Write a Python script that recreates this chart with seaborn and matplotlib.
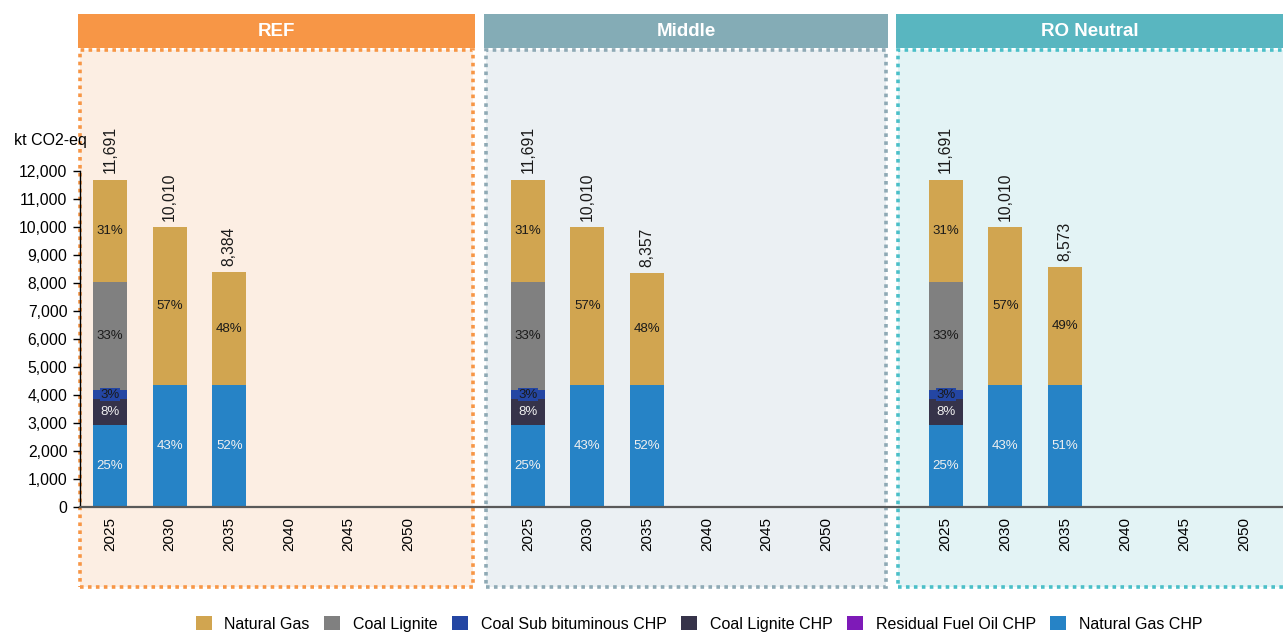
import matplotlib
matplotlib.use("Agg")
import matplotlib.pyplot as plt
from matplotlib.patches import Rectangle, Patch
import seaborn as sns
import pandas as pd
import numpy as np

# ---------------- data ----------------
scenarios = ["REF", "Middle", "RO Neutral"]
years = [2025, 2030, 2035, 2040, 2045, 2050]
data_years = [2025, 2030, 2035]

# series listed bottom -> top in the stack
series_stack = ["Natural Gas CHP", "Coal Lignite CHP", "Coal Sub bituminous CHP",
                "Residual Fuel Oil CHP", "Coal Lignite", "Natural Gas"]
legend_order = ["Natural Gas", "Coal Lignite", "Coal Sub bituminous CHP",
                "Coal Lignite CHP", "Residual Fuel Oil CHP", "Natural Gas CHP"]

natural_gas_chp = {"REF": [2925, 4340, 4340], "Middle": [2925, 4340, 4340], "RO Neutral": [2925, 4340, 4340]}
coal_lignite_chp = {"REF": [925, 0, 0], "Middle": [925, 0, 0], "RO Neutral": [925, 0, 0]}
coal_subbit_chp = {"REF": [330, 0, 0], "Middle": [330, 0, 0], "RO Neutral": [330, 0, 0]}
resid_fuel_oil_chp = {"REF": [0, 0, 0], "Middle": [0, 0, 0], "RO Neutral": [0, 0, 0]}
coal_lignite = {"REF": [3861, 0, 0], "Middle": [3861, 0, 0], "RO Neutral": [3861, 0, 0]}
natural_gas = {"REF": [3650, 5670, 4044], "Middle": [3650, 5670, 4017], "RO Neutral": [3650, 5670, 4233]}

series_values = {
    "Natural Gas CHP": natural_gas_chp,
    "Coal Lignite CHP": coal_lignite_chp,
    "Coal Sub bituminous CHP": coal_subbit_chp,
    "Residual Fuel Oil CHP": resid_fuel_oil_chp,
    "Coal Lignite": coal_lignite,
    "Natural Gas": natural_gas,
}

colors = {
    "Natural Gas": "#D1A550",
    "Coal Lignite": "#808080",
    "Coal Sub bituminous CHP": "#2446A3",
    "Coal Lignite CHP": "#36334A",
    "Residual Fuel Oil CHP": "#7E1AB8",
    "Natural Gas CHP": "#2683C6",
}
text_colors = {
    "Natural Gas": "#1a1a1a",
    "Coal Lignite": "#1a1a1a",
    "Coal Sub bituminous CHP": "#1a1a1a",
    "Coal Lignite CHP": "#F0F0F0",
    "Residual Fuel Oil CHP": "white",
    "Natural Gas CHP": "#F0F0F0",
}

header_colors = {"REF": "#F79646", "Middle": "#84ACB6", "RO Neutral": "#59B6C0"}
panel_fill = {"REF": "#FCEEE3", "Middle": "#EBF0F3", "RO Neutral": "#E3F3F5"}
panel_edge = {"REF": "#F79646", "Middle": "#8FAAB5", "RO Neutral": "#4BBFC8"}

# ---------------- build long table ----------------
rows = []
for si, sc in enumerate(scenarios):
    for yi, yr in enumerate(data_years):
        slot = si * 7 + yi
        cum = 0
        for s in series_stack:
            v = series_values[s][sc][yi]
            bottom = cum
            cum += v
            rows.append(dict(scenario=sc, year=yr, slot=slot, series=s,
                             value=v, bottom=bottom, top=cum))
df = pd.DataFrame(rows)
totals = df.groupby("slot")["value"].sum()

# ---------------- figure ----------------
W, H = 1283, 633
fig = plt.figure(figsize=(W / 100, H / 100), dpi=100)
plt.rcParams["font.family"] = ["Liberation Sans", "DejaVu Sans"]

def fx(px):
    return px / W

def fy(py):
    return 1 - py / H

# panel backgrounds and headers (figure pixel layout)
panel_px = {"REF": (80, 473), "Middle": (486, 886), "RO Neutral": (898, 1290)}
header_px = {"REF": (78, 475), "Middle": (484, 888), "RO Neutral": (896, 1290)}
for sc in scenarios:
    x0, x1 = panel_px[sc]
    fig.patches.append(Rectangle((fx(x0), fy(587)), fx(x1 - x0), (587 - 50) / H,
                                 transform=fig.transFigure, facecolor=panel_fill[sc],
                                 edgecolor=panel_edge[sc], linewidth=2.6,
                                 linestyle=(0, (1, 1.2)), zorder=-2))
    hx0, hx1 = header_px[sc]
    fig.patches.append(Rectangle((fx(hx0), fy(48)), fx(hx1 - hx0), 34 / H,
                                 transform=fig.transFigure, facecolor=header_colors[sc],
                                 edgecolor="none", zorder=-2))
    fig.text(fx((hx0 + min(hx1, W)) / 2), fy(31), sc, color="white", fontsize=13.5,
             fontweight="bold", ha="center", va="center")

ax = fig.add_axes([fx(80), (H - 507) / H, fx(1203), 336 / H])
ax.set_facecolor("none")
ax.patch.set_visible(False)

# stacked bars: draw cumulative tops from the top series down
for s in series_stack[::-1]:
    sub = df[df["series"] == s]
    sns.barplot(data=sub, x="slot", y="top", native_scale=True, color=colors[s],
                saturation=1, width=0.57, errorbar=None, linewidth=0, ax=ax)

# percentage labels
for _, r in df.iterrows():
    share = r["value"] / totals[r["slot"]]
    if share >= 0.015:
        lab = f"{share * 100:.0f}%"
        yc = (r["bottom"] + r["top"]) / 2
        kw = {}
        if r["series"] == "Coal Sub bituminous CHP":
            kw["bbox"] = dict(facecolor=colors[r["series"]], edgecolor="none", pad=0.3)
        ax.text(r["slot"], yc, lab, ha="center", va="center", fontsize=9.5,
                color=text_colors[r["series"]], **kw)

# total labels
for slot, tot in totals.items():
    ax.text(slot, tot + 220, f"{tot:,.0f}", rotation=90, ha="center", va="bottom",
            fontsize=11.3, color="#1a1a1a")

# axes formatting
tick_pos = [si * 7 + yi for si in range(len(scenarios)) for yi in range(len(years))]
tick_lab = [str(y) for _ in scenarios for y in years]
ax.set_xlim(-0.5, 19.65)
ax.set_ylim(0, 12000)
ax.set_xticks(tick_pos)
ax.set_xticklabels(tick_lab, rotation=90, fontsize=11)
ax.set_yticks(np.arange(0, 12001, 1000))
ax.set_yticklabels([f"{v:,}" for v in range(0, 12001, 1000)], fontsize=11.3)
ax.tick_params(axis="x", length=0, pad=7)
ax.tick_params(axis="y", length=5, width=1, color="black", pad=4)
ax.set_xlabel("")
ax.set_ylabel("")
for sp in ["top", "right"]:
    ax.spines[sp].set_visible(False)
ax.spines["left"].set_color("black")
ax.spines["left"].set_linewidth(1)
ax.spines["bottom"].set_color("#595959")
ax.spines["bottom"].set_linewidth(1.6)

fig.text(fx(14), fy(141), "kt CO2-eq", fontsize=11.5, ha="left", va="center")

handles = [Patch(facecolor=colors[s], edgecolor="none", label=s) for s in legend_order]
fig.legend(handles=handles, loc="center", bbox_to_anchor=(fx(699), fy(624)), ncol=6,
           frameon=False, fontsize=11.5, handlelength=1.0, handleheight=1.0,
           columnspacing=0.9, handletextpad=0.8, borderpad=0)

fig.savefig("out.png", dpi=100)
